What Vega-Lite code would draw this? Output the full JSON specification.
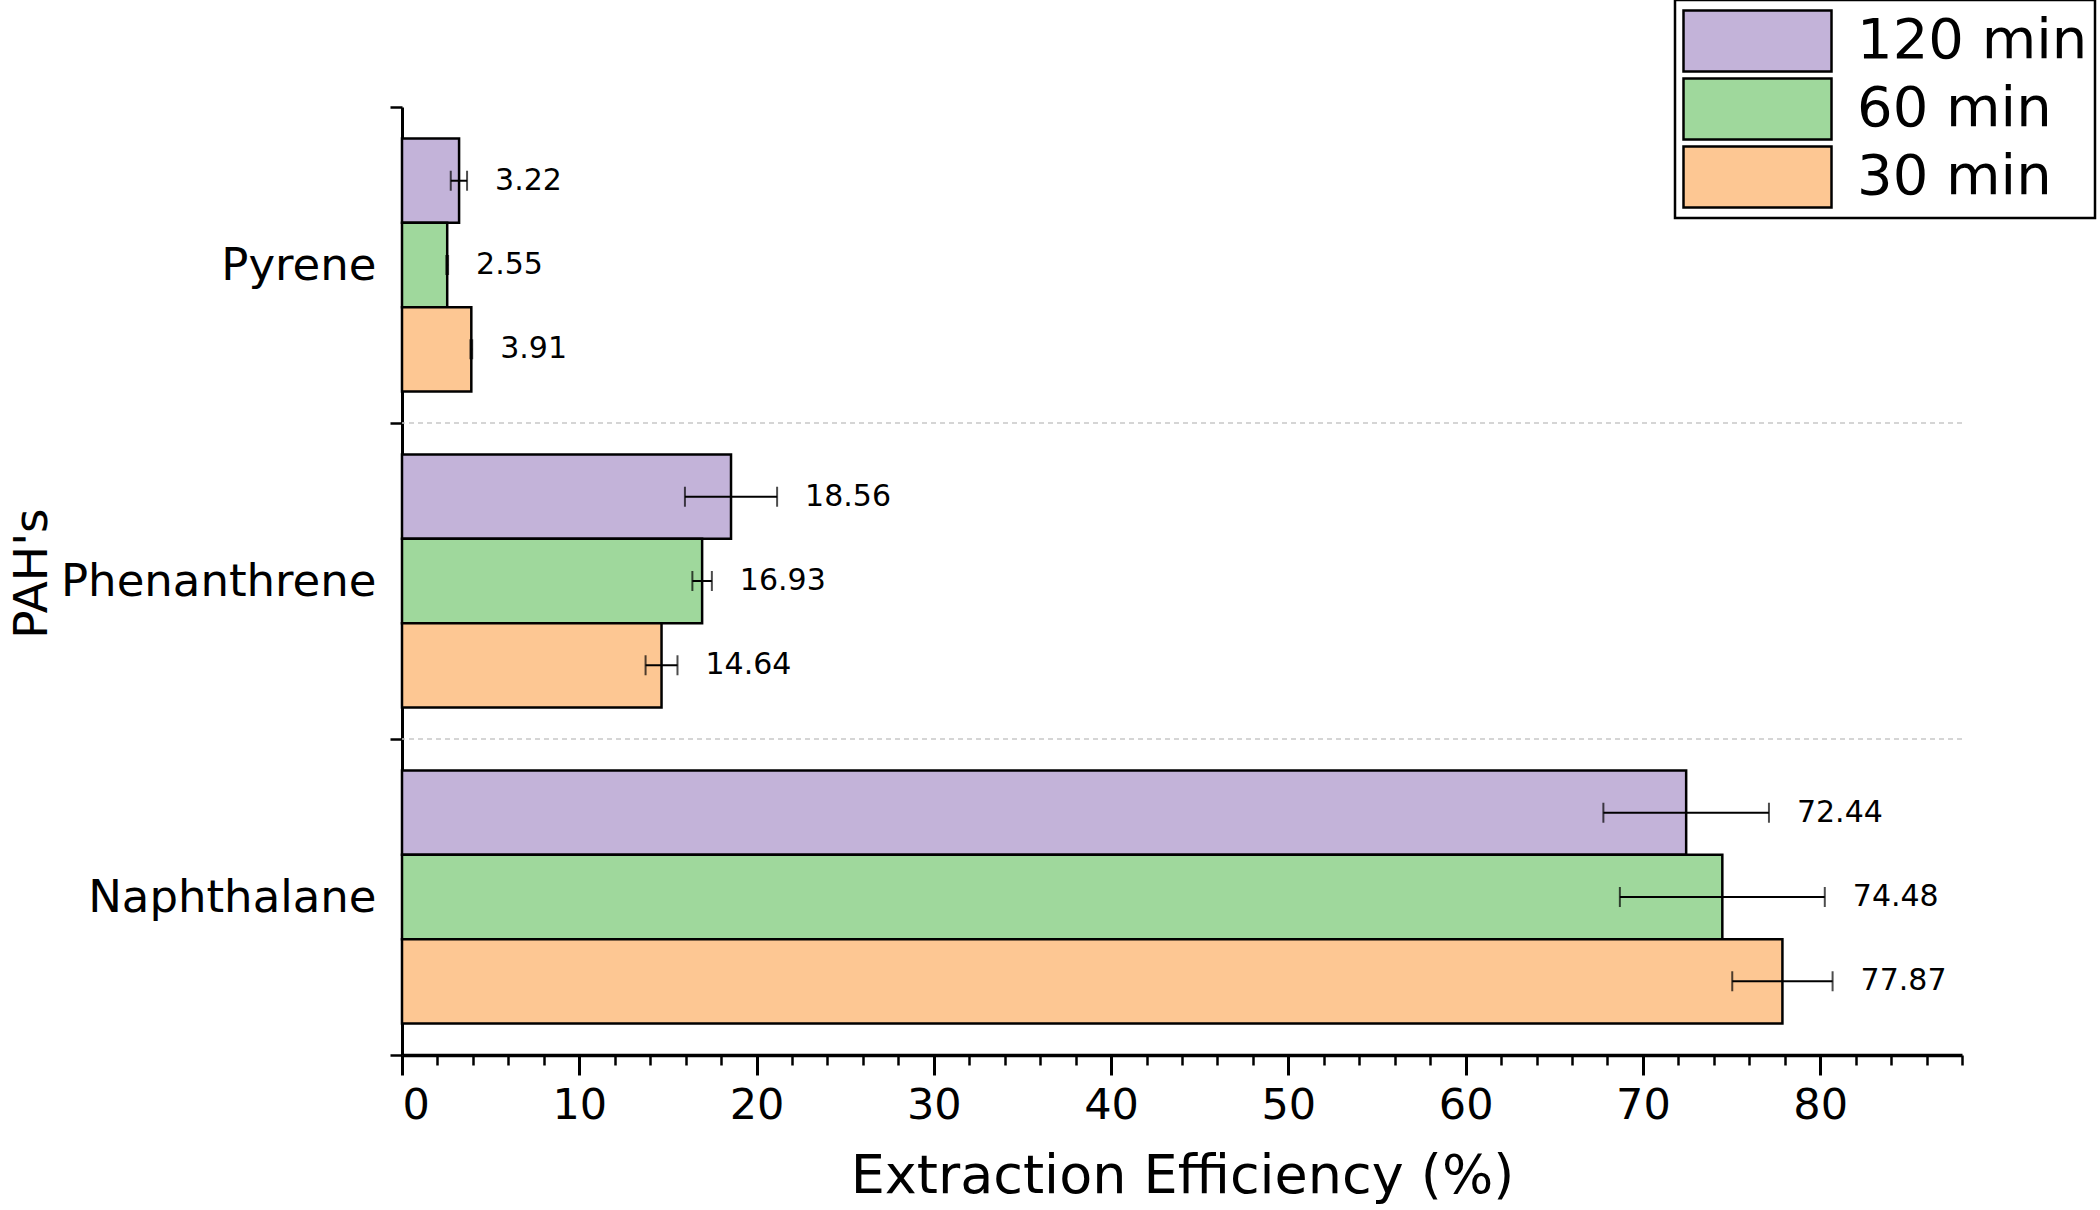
{
  "$schema": "https://vega.github.io/schema/vega-lite/v6.json",
  "width": 1560,
  "height": 948,
  "autosize": {"type": "none"},
  "padding": {"left": 402, "top": 107, "right": 138, "bottom": 155},
  "background": "white",
  "config": {"view": {"stroke": null}, "font": "DejaVu Sans", "legend": {"strokeWidth": 2.5}},
  "datasets": {
    "main": [
      {"PAH": "Pyrene", "time": "120 min", "value": 3.22, "lo": 2.75, "hi": 3.67},
      {"PAH": "Pyrene", "time": "60 min", "value": 2.55, "lo": 2.5, "hi": 2.6},
      {"PAH": "Pyrene", "time": "30 min", "value": 3.91, "lo": 3.86, "hi": 3.96},
      {"PAH": "Phenanthrene", "time": "120 min", "value": 18.56, "lo": 15.96, "hi": 21.16},
      {"PAH": "Phenanthrene", "time": "60 min", "value": 16.93, "lo": 16.38, "hi": 17.48},
      {"PAH": "Phenanthrene", "time": "30 min", "value": 14.64, "lo": 13.74, "hi": 15.54},
      {"PAH": "Naphthalane", "time": "120 min", "value": 72.44, "lo": 67.77, "hi": 77.11},
      {"PAH": "Naphthalane", "time": "60 min", "value": 74.48, "lo": 68.7, "hi": 80.26},
      {"PAH": "Naphthalane", "time": "30 min", "value": 77.87, "lo": 75.04, "hi": 80.7}
    ],
    "seps": [
      {"PAH": "Pyrene"},
      {"PAH": "Phenanthrene"}
    ]
  },
  "data": {"name": "main"},
  "layer": [
    {
      "mark": {"type": "bar", "stroke": "black", "strokeWidth": 2.5},
      "encoding": {
        "x": {
          "field": "value", "type": "quantitative",
          "scale": {"domain": [0, 88], "nice": false, "zero": true},
          "axis": {
            "orient": "bottom",
            "title": "Extraction Efficiency (%)",
            "titleFont": "DejaVu Sans", "titleFontSize": 54, "titleFontWeight": "normal", "titleColor": "black", "titlePadding": 22,
            "values": [0, 10, 20, 30, 40, 50, 60, 70, 80],
            "labelFont": "DejaVu Sans", "labelFontSize": 43, "labelColor": "black", "labelPadding": 9,
            "tickSize": 20, "tickWidth": 3, "tickColor": "black",
            "domainColor": "black", "domainWidth": 3.5,
            "grid": false
          }
        },
        "y": {
          "field": "PAH", "type": "nominal",
          "sort": ["Pyrene", "Phenanthrene", "Naphthalane"],
          "scale": {"domain": ["Pyrene", "Phenanthrene", "Naphthalane"], "paddingInner": 0, "paddingOuter": 0},
          "axis": {
            "title": "PAH's",
            "titleFont": "DejaVu Sans", "titleFontSize": 47, "titleFontWeight": "normal", "titleColor": "black",
            "titleX": -346, "titleY": 466, "titleAngle": -90, "titleAlign": "center", "titleBaseline": "bottom",
            "labelFont": "DejaVu Sans", "labelFontSize": 45, "labelColor": "black", "labelPadding": 14, "labelLimit": 500,
            "tickSize": 12, "tickWidth": 2.5, "tickColor": "black", "tickBand": "extent",
            "domainColor": "black", "domainWidth": 3,
            "grid": false
          }
        },
        "yOffset": {
          "field": "time", "type": "nominal",
          "sort": ["120 min", "60 min", "30 min"],
          "scale": {"domain": ["120 min", "60 min", "30 min"], "paddingInner": 0, "paddingOuter": 0.375}
        },
        "color": {
          "field": "time", "type": "nominal",
          "sort": ["120 min", "60 min", "30 min"],
          "scale": {"domain": ["120 min", "60 min", "30 min"], "range": ["#c3b3d9", "#9fd89c", "#fdc793"]},
          "legend": {
            "title": null,
            "orient": "none",
            "legendX": 1273,
            "legendY": -107,
            "symbolType": "M-1,-0.412L1,-0.412L1,0.412L-1,0.412Z",
            "symbolSize": 21904,
            "symbolStrokeColor": "black",
            "symbolStrokeWidth": 2.5,
            "symbolOpacity": 1,
            "clipHeight": 68,
            "rowPadding": 0,
            "labelFont": "DejaVu Sans",
            "labelFontSize": 56,
            "labelColor": "black",
            "labelOffset": 24,
            "labelLimit": 400,
            "padding": 7,
            "strokeColor": "black",
            "fillColor": "white",
            "cornerRadius": 0
          }
        }
      }
    },
    {
      "mark": {"type": "rule", "color": "black", "strokeWidth": 2},
      "encoding": {
        "x": {
          "field": "lo", "type": "quantitative",
          "axis": {
            "orient": "bottom",
            "title": null,
            "values": [2, 4, 6, 8, 12, 14, 16, 18, 22, 24, 26, 28, 32, 34, 36, 38, 42, 44, 46, 48, 52, 54, 56, 58, 62, 64, 66, 68, 72, 74, 76, 78, 82, 84, 86, 88],
            "labels": false,
            "domain": false,
            "grid": false,
            "tickSize": 10, "tickWidth": 2.5, "tickColor": "black"
          }
        },
        "x2": {"field": "hi"},
        "y": {"field": "PAH", "type": "nominal"},
        "yOffset": {"field": "time", "type": "nominal"}
      }
    },
    {
      "mark": {"type": "tick", "color": "black", "thickness": 2, "size": 20},
      "encoding": {
        "x": {"field": "lo", "type": "quantitative", "axis": null},
        "y": {"field": "PAH", "type": "nominal"},
        "yOffset": {"field": "time", "type": "nominal"}
      }
    },
    {
      "mark": {"type": "tick", "color": "black", "thickness": 2, "size": 20},
      "encoding": {
        "x": {"field": "hi", "type": "quantitative", "axis": null},
        "y": {"field": "PAH", "type": "nominal"},
        "yOffset": {"field": "time", "type": "nominal"}
      }
    },
    {
      "mark": {"type": "text", "align": "left", "baseline": "middle", "dx": 28, "fontSize": 30, "font": "DejaVu Sans", "color": "black"},
      "encoding": {
        "x": {"field": "hi", "type": "quantitative", "axis": null},
        "y": {"field": "PAH", "type": "nominal"},
        "yOffset": {"field": "time", "type": "nominal"},
        "text": {"field": "value", "type": "quantitative", "format": ".2f"}
      }
    },
    {
      "data": {"name": "seps"},
      "mark": {"type": "rule", "color": "#c8c8c8", "strokeWidth": 1.5, "strokeDash": [5, 4]},
      "encoding": {
        "y": {"field": "PAH", "type": "nominal", "bandPosition": 1}
      }
    }
  ],
  "resolve": {"axis": {"x": "independent"}}
}
